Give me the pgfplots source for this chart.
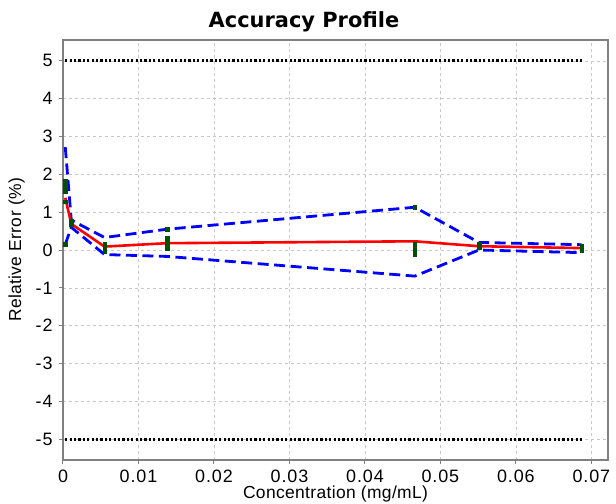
\documentclass[border=0pt]{standalone}
\usepackage{fontspec}
\setmainfont{Liberation Sans}
\newfontfamily\tickfont{Liberation Sans}[LetterSpace=5]
\newfontfamily\labelfont{Liberation Sans}[LetterSpace=2]
\newfontfamily\titlefont{DejaVu Sans}
\usepackage{pgfplots}
\pgfplotsset{compat=1.18}
\definecolor{gridgray}{RGB}{200,200,200}
\definecolor{dgreen}{RGB}{0,80,0}
\definecolor{framegray}{RGB}{128,128,128}
\begin{document}
\begin{tikzpicture}
\path[use as bounding box] (-63bp,-44bp) rectangle (553bp,460bp);
\begin{axis}[
  scale only axis, width=545bp, height=420bp,
  at={(0,0)}, anchor=south west,
  xmin=0, xmax=0.0722, ymin=-5.55, ymax=5.55,
  xtick={0,0.01,...,0.07}, ytick={-5,-4,...,5},
  scaled x ticks=false,
  xticklabel style={/pgf/number format/fixed, /pgf/number format/precision=2, yshift=-2bp},
  yticklabel style={xshift=-3bp},
  /pgf/number format/assume math mode=true,
  ticklabel style={font=\tickfont\fontsize{18}{20}\selectfont},
  label style={font=\labelfont\fontsize{17.5}{20}\selectfont},
  xlabel={Concentration (mg/mL)}, ylabel={Relative Error (\%)},
  xlabel style={yshift=3bp},
  ylabel style={yshift=4bp},
  tick pos=left, tick align=outside, major tick length=4bp,
  axis line style={framegray, line width=1.2bp},
  tick style={framegray, line width=1bp},
  grid=major, major grid style={gridgray, dash pattern=on 3bp off 3bp, line width=0.6bp},
  clip=false,
]
\addplot[black, line width=3bp, dash pattern=on 2.2bp off 2.2bp] coordinates {(0.0003,5) (0.0687,5)};
\addplot[black, line width=3bp, dash pattern=on 2.2bp off 2.2bp] coordinates {(0.0003,-5) (0.0687,-5)};
\addplot[blue, line width=2.8bp, dash pattern=on 11bp off 5.5bp] coordinates {
(0.0003,2.72) (0.0011,0.79) (0.0055,0.33) (0.0138,0.55) (0.0466,1.13) (0.0551,0.20) (0.0687,0.14)};
\addplot[blue, line width=2.8bp, dash pattern=on 11bp off 5.5bp] coordinates {
(0.0003,0.15) (0.0011,0.60) (0.0055,-0.12) (0.0138,-0.17) (0.0466,-0.69) (0.0551,0.00) (0.0687,-0.07)};
\addplot[red, line width=2.6bp] coordinates {
(0.0003,1.38) (0.0011,0.69) (0.0055,0.09) (0.0138,0.18) (0.0466,0.23) (0.0551,0.10) (0.0687,0.05)};
\addplot[only marks, mark=square*, mark size=1.8bp, dgreen, mark options={draw=dgreen, fill=dgreen}] coordinates {
(0.0003,1.28) (0.0003,1.55) (0.0003,1.62) (0.0003,1.70) (0.0003,1.78) (0.0003,1.82) (0.0003,0.15)
(0.0011,0.68) (0.0011,0.72) (0.0011,0.76)
(0.0055,-0.05) (0.0055,0.00) (0.0055,0.05) (0.0055,0.10) (0.0055,0.15)
(0.0138,0.03) (0.0138,0.10) (0.0138,0.18) (0.0138,0.25) (0.0138,0.32) (0.0138,0.55)
(0.0466,-0.12) (0.0466,-0.05) (0.0466,0.02) (0.0466,0.10) (0.0466,0.16) (0.0466,1.13)
(0.0551,0.08) (0.0551,0.12) (0.0551,0.16)
(0.0687,0.00) (0.0687,0.05) (0.0687,0.10)};
\end{axis}
\node[anchor=base, font=\titlefont\bfseries\fontsize{21}{24}\selectfont] at (241bp,432bp) {Accuracy Profile};
\end{tikzpicture}
\end{document}
